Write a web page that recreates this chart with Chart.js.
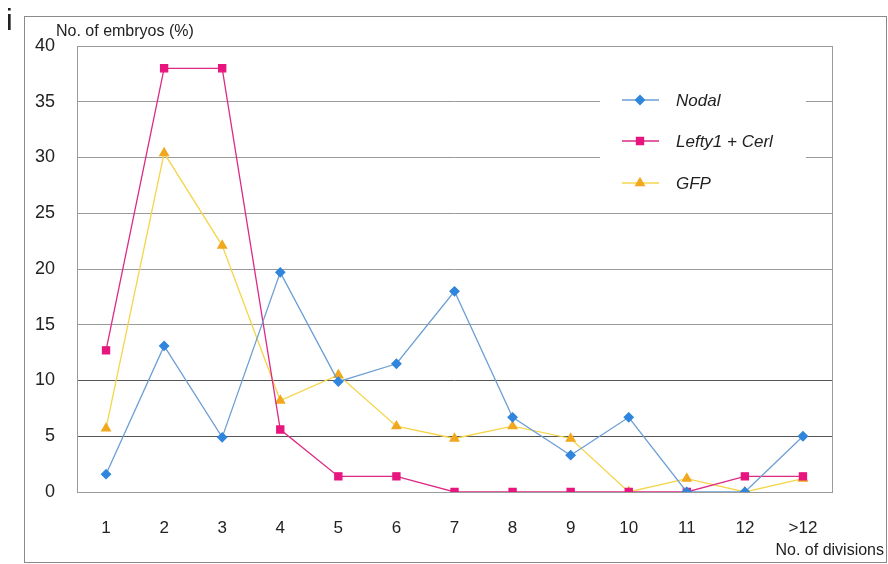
<!DOCTYPE html>
<html>
<head>
<meta charset="utf-8">
<script src="https://cdn.jsdelivr.net/npm/chart.js@4/dist/chart.umd.min.js"></script>
<style>
  html, body { margin: 0; padding: 0; background: #fff; }
  #wrap { width: 888px; height: 564px; position: relative; }
</style>
</head>
<body>
<div id="wrap"><canvas id="chart"></canvas></div>
<script>
// data
const divisions = ['1', '2', '3', '4', '5', '6', '7', '8', '9', '10', '11', '12', '>12'];
const nodal = [1.6, 13.1, 4.9, 19.7, 9.9, 11.5, 18.0, 6.7, 3.3, 6.7, 0, 0, 5.0];
const leftyCerl = [12.7, 38.0, 38.0, 5.6, 1.4, 1.4, 0, 0, 0, 0, 0, 1.4, 1.4];
const gfp = [5.7, 30.4, 22.1, 8.2, 10.5, 5.9, 4.8, 5.9, 4.8, 0, 1.2, 0, 1.2];
const yTicks = [0, 5, 10, 15, 20, 25, 30, 35, 40];

const FONT = '"Liberation Sans", Arial, sans-serif';

const series = [
    { label: 'Nodal', data: nodal, line: '#6d9fd4', point: '#2f86dc', style: 'rectRot', r: 4.5 },
    { label: 'Lefty1 + Cerl', data: leftyCerl, line: '#dd2a86', point: '#e8157f', style: 'rect', r: 5 },
    { label: 'GFP', data: gfp, line: '#f6d54a', point: '#f2a81e', style: 'triangle', r: 5 }
];

// frame, titles, in-plot legend
const decor = {
    id: 'decor',
    beforeDatasetsDraw(chart) {
        const { ctx, chartArea: a } = chart;
        ctx.save();
        // plot box
        ctx.strokeStyle = '#9a9a9a';
        ctx.lineWidth = 1;
        ctx.strokeRect(a.left + 0.5, a.top + 0.5, a.right - a.left, a.bottom - a.top);
        // legend backing
        ctx.fillStyle = '#fff';
        ctx.fillRect(600, 82, 206, 118);
        ctx.restore();
    },
    afterDraw(chart) {
        const { ctx } = chart;
        ctx.save();
        // outer frame
        ctx.strokeStyle = '#8a8a8a';
        ctx.lineWidth = 1;
        ctx.strokeRect(24.5, 16.5, 862, 546);

        ctx.fillStyle = '#222';
        ctx.font = '30px ' + FONT;
        ctx.textBaseline = 'alphabetic';
        ctx.fillText('i', 6, 30);

        ctx.font = '16px ' + FONT;
        ctx.fillText('No. of embryos (%)', 56, 36);
        ctx.textAlign = 'right';
        ctx.fillText('No. of divisions', 884, 555);

        // legend
        ctx.textAlign = 'left';
        ctx.textBaseline = 'middle';
        ctx.font = 'italic 17px ' + FONT;
        const ys = [100, 141, 183];
        series.forEach((s, i) => {
            const y = ys[i];
            ctx.strokeStyle = s.line;
            ctx.lineWidth = 1.3;
            ctx.beginPath();
            ctx.moveTo(622, y);
            ctx.lineTo(659, y);
            ctx.stroke();
            ctx.fillStyle = s.point;
            ctx.strokeStyle = s.point;
            ctx.beginPath();
            Chart.helpers.drawPoint(ctx, { pointStyle: s.style, radius: s.r, rotation: 0, borderWidth: 1 }, 640, y);
            ctx.fillStyle = '#222';
            ctx.fillText(s.label, 676, y + 1);
        });
        ctx.restore();
    }
};

new Chart(document.getElementById('chart'), {
    type: 'line',
    data: {
        labels: divisions,
        datasets: series.map(s => ({
            label: s.label,
            data: s.data,
            borderColor: s.line,
            borderWidth: 1.3,
            backgroundColor: s.point,
            pointBackgroundColor: s.point,
            pointBorderColor: s.point,
            pointStyle: s.style,
            pointRadius: s.r,
            tension: 0
        }))
    },
    options: {
        responsive: true,
        maintainAspectRatio: false,
        animation: false,
        layout: { padding: { left: 22, right: 56, top: 46, bottom: 20 } },
        plugins: { legend: { display: false }, tooltip: { enabled: false } },
        scales: {
            x: {
                offset: true,
                grid: { display: false },
                border: { display: false },
                ticks: { color: '#222', font: { family: FONT, size: 17 }, padding: 18, maxRotation: 0 },
                afterFit: (s) => { s.height = 52; }
            },
            y: {
                min: 0,
                max: 40,
                afterBuildTicks: (s) => { s.ticks = yTicks.map(v => ({ value: v })); },
                grid: {
                    color: (c) => (c.tick && (c.tick.value === 5 || c.tick.value === 10)) ? '#555' : '#9a9a9a',
                    drawTicks: false
                },
                border: { display: false },
                ticks: { color: '#222', font: { family: FONT, size: 18 }, padding: 22 },
                afterFit: (s) => { s.width = 55; }
            }
        }
    },
    plugins: [decor]
});
</script>
</body>
</html>
